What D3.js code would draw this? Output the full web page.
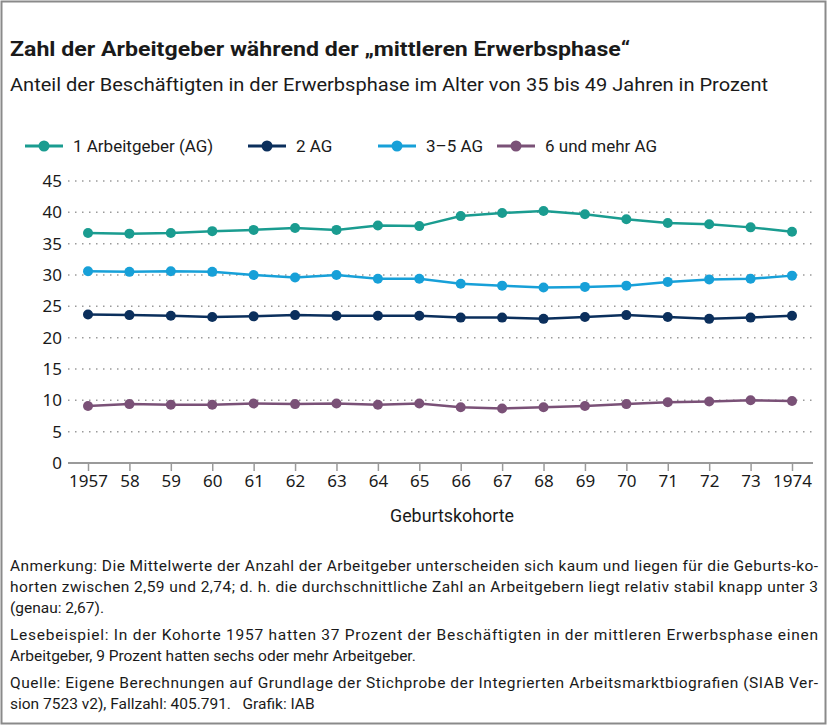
<!DOCTYPE html>
<html>
<head>
<meta charset="utf-8">
<script src="https://cdn.jsdelivr.net/npm/d3@7"></script>
<style>
  body { margin: 0; background: #fff; }
  svg { display: block; }
</style>
</head>
<body>
<svg id="chart" width="828" height="726"></svg>
<script>
// Daten
const years = [1957, 1958, 1959, 1960, 1961, 1962, 1963, 1964, 1965, 1966, 1967, 1968, 1969, 1970, 1971, 1972, 1973, 1974];
const yearLabels = ["1957", "58", "59", "60", "61", "62", "63", "64", "65", "66", "67", "68", "69", "70", "71", "72", "73", "1974"];
const ag1 = [36.7, 36.6, 36.7, 37.0, 37.2, 37.5, 37.2, 37.9, 37.8, 39.4, 39.9, 40.2, 39.7, 38.9, 38.3, 38.1, 37.6, 36.9];
const ag2 = [23.7, 23.6, 23.5, 23.3, 23.4, 23.6, 23.5, 23.5, 23.5, 23.2, 23.2, 23.0, 23.3, 23.6, 23.3, 23.0, 23.2, 23.5];
const ag3to5 = [30.6, 30.5, 30.6, 30.5, 30.0, 29.6, 30.0, 29.4, 29.4, 28.6, 28.3, 28.0, 28.1, 28.3, 28.9, 29.3, 29.4, 29.9];
const ag6plus = [9.1, 9.4, 9.3, 9.3, 9.5, 9.4, 9.5, 9.3, 9.5, 8.9, 8.7, 8.9, 9.1, 9.4, 9.7, 9.8, 10.0, 9.9];
const yTicks = [0, 5, 10, 15, 20, 25, 30, 35, 40, 45];

const seriesNames = ["1 Arbeitgeber (AG)", "2 AG", "3–5 AG", "6 und mehr AG"];
const seriesValues = [ag1, ag2, ag3to5, ag6plus];
const seriesColors = ["#1a9c90", "#0b2f5c", "#17a0d8", "#7a5177"];

const notes = [
  ["Anmerkung: Die Mittelwerte der Anzahl der Arbeitgeber unterscheiden sich kaum und liegen für die Geburts-ko-", true],
  ["horten zwischen 2,59 und 2,74; d. h. die durchschnittliche Zahl an Arbeitgebern liegt relativ stabil knapp unter 3", true],
  ["(genau: 2,67).", false],
  ["Lesebeispiel: In der Kohorte 1957 hatten 37 Prozent der Beschäftigten in der mittleren Erwerbsphase einen", true],
  ["Arbeitgeber, 9 Prozent hatten sechs oder mehr Arbeitgeber.", false],
  ["Quelle: Eigene Berechnungen auf Grundlage der Stichprobe der Integrierten Arbeitsmarktbiografien (SIAB Ver-", true],
  ["sion 7523 v2), Fallzahl: 405.791.   Grafik: IAB", false]
];
const noteY = [571, 592, 613, 640, 661, 688, 709];

const textFont = "'Source Sans Pro', Roboto, 'Noto Sans', sans-serif";
const tickFont = "'Noto Sans', 'Open Sans', sans-serif";

const svg = d3.select("#chart");

// Rahmen
svg.append("rect")
  .attr("x", 1.5).attr("y", 1.5)
  .attr("width", 824).attr("height", 722)
  .attr("fill", "none")
  .attr("stroke", "#8a8a8a")
  .attr("stroke-width", 2);

// Titel
svg.append("text")
  .attr("x", 10).attr("y", 56)
  .attr("font-family", textFont)
  .attr("font-size", 21)
  .attr("font-weight", 700)
  .attr("fill", "#1a1a1a")
  .attr("textLength", 620)
  .attr("lengthAdjust", "spacingAndGlyphs")
  .text("Zahl der Arbeitgeber während der „mittleren Erwerbsphase“");

svg.append("text")
  .attr("x", 10).attr("y", 91)
  .attr("font-family", textFont)
  .attr("font-size", 19)
  .attr("fill", "#1a1a1a")
  .attr("textLength", 758)
  .attr("lengthAdjust", "spacingAndGlyphs")
  .text("Anteil der Beschäftigten in der Erwerbsphase im Alter von 35 bis 49 Jahren in Prozent");

// Skalen
const x = d3.scalePoint().domain(years).range([88, 792]);
const y = d3.scaleLinear().domain([0, 45]).range([463, 181]);

// Gitterlinien
svg.append("g")
  .selectAll("line")
  .data(yTicks.filter((d) => d > 0))
  .join("line")
  .attr("x1", 68).attr("x2", 813)
  .attr("y1", (d) => y(d)).attr("y2", (d) => y(d))
  .attr("stroke", "#9a9a9a")
  .attr("stroke-width", 1.5)
  .attr("stroke-dasharray", "1.5 5.5");

// y-Achse (nur Beschriftung)
const yAxis = svg.append("g")
  .attr("transform", "translate(62,0)")
  .call(d3.axisLeft(y).tickValues(yTicks).tickSize(0).tickPadding(0));
yAxis.select(".domain").remove();
yAxis.selectAll("text")
  .attr("font-family", tickFont)
  .attr("font-size", 17)
  .attr("fill", "#1a1a1a");

// x-Achse
const xAxis = svg.append("g")
  .attr("transform", "translate(0,463)")
  .call(d3.axisBottom(x).tickSize(8).tickPadding(4).tickFormat((d, i) => yearLabels[i]));
xAxis.select(".domain").remove();
xAxis.append("line")
  .attr("x1", 68).attr("x2", 813)
  .attr("stroke", "#9a9a9a")
  .attr("stroke-width", 2);
xAxis.selectAll(".tick line").attr("stroke", "#9a9a9a").attr("stroke-width", 1.5);
xAxis.selectAll("text")
  .attr("font-family", tickFont)
  .attr("font-size", 17)
  .attr("fill", "#1a1a1a");

svg.append("text")
  .attr("x", 452).attr("y", 522)
  .attr("text-anchor", "middle")
  .attr("font-family", textFont)
  .attr("font-size", 17.5)
  .attr("fill", "#1a1a1a")
  .attr("textLength", 124)
  .attr("lengthAdjust", "spacingAndGlyphs")
  .text("Geburtskohorte");

// Linien
const line = d3.line()
  .x((d, i) => x(years[i]))
  .y((d) => y(d));

const seriesG = svg.append("g")
  .selectAll("g")
  .data(seriesValues)
  .join("g")
  .attr("fill", (d, i) => seriesColors[i])
  .attr("stroke", (d, i) => seriesColors[i]);

seriesG.append("path")
  .attr("d", line)
  .attr("fill", "none")
  .attr("stroke-width", 2.5);

seriesG.selectAll("circle")
  .data((d) => d)
  .join("circle")
  .attr("cx", (d, i) => x(years[i]))
  .attr("cy", (d) => y(d))
  .attr("r", 5)
  .attr("stroke", "none");

// Legende
const legendX = [25, 248, 378, 497];
const legend = svg.append("g")
  .selectAll("g")
  .data(seriesNames)
  .join("g")
  .attr("transform", (d, i) => `translate(${legendX[i]},146)`);

legend.append("line")
  .attr("x1", 0).attr("x2", 38)
  .attr("stroke", (d, i) => seriesColors[i])
  .attr("stroke-width", 3);
legend.append("circle")
  .attr("cx", 19).attr("r", 5.5)
  .attr("fill", (d, i) => seriesColors[i]);
legend.append("text")
  .attr("x", 48).attr("y", 6)
  .attr("font-family", textFont)
  .attr("font-size", 17)
  .attr("fill", "#1a1a1a")
  .text((d) => d);

// Anmerkungen
svg.append("g")
  .selectAll("text")
  .data(notes)
  .join("text")
  .attr("x", 10)
  .attr("y", (d, i) => noteY[i])
  .attr("font-family", textFont)
  .attr("font-size", 15.5)
  .attr("fill", "#1a1a1a")
  .style("white-space", "pre")
  .each(function (d) {
    if (d[1]) {
      d3.select(this).attr("textLength", 808).attr("lengthAdjust", "spacing");
    }
  })
  .text((d) => d[0]);
</script>
</body>
</html>
